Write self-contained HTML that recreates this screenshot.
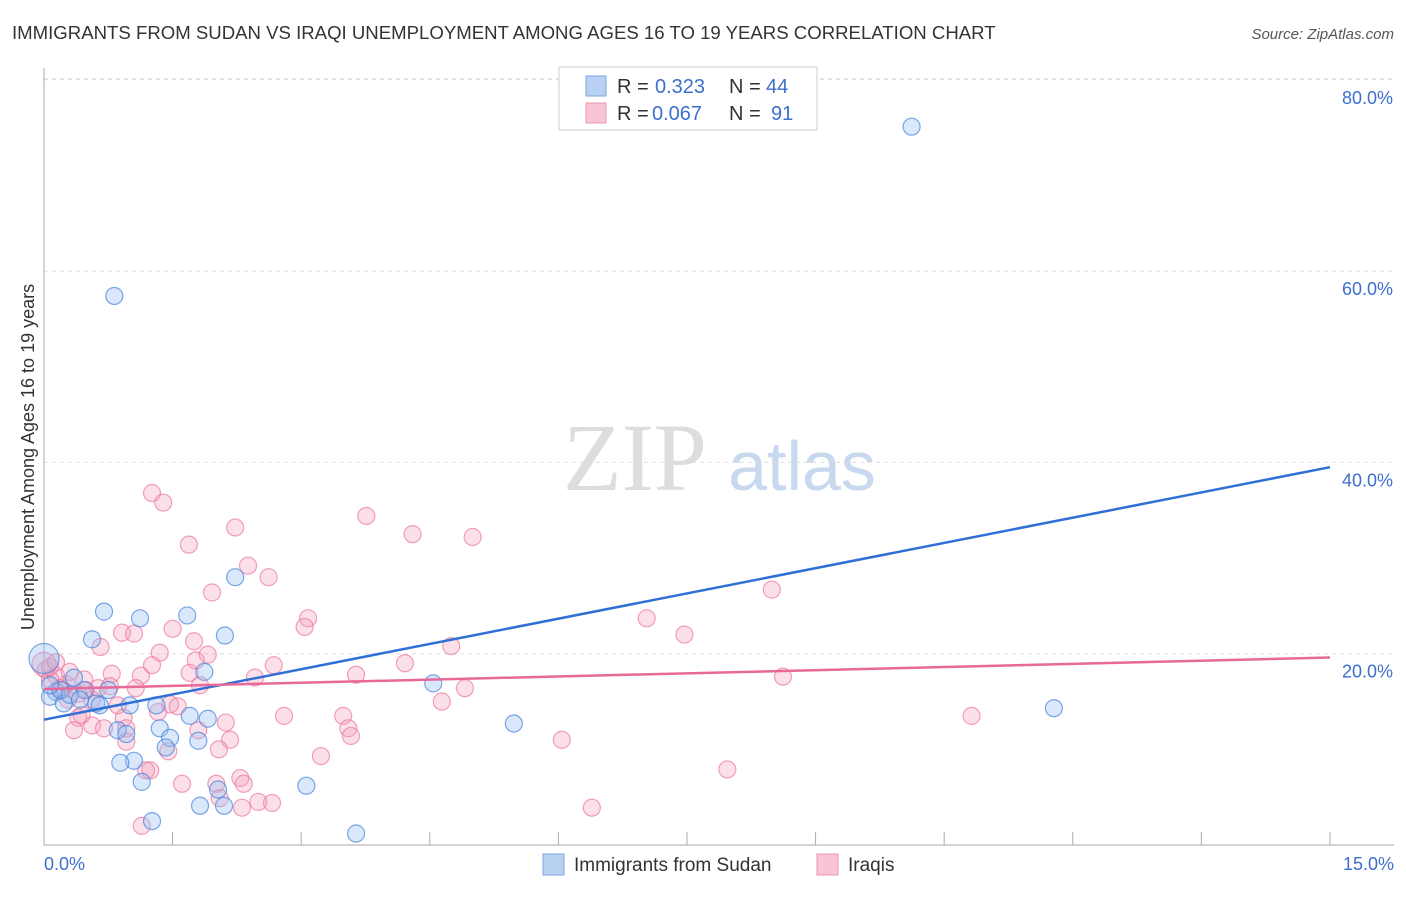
<!DOCTYPE html>
<html><head><meta charset="utf-8"><style>
body{margin:0;background:#fff;font-family:"Liberation Sans",sans-serif}
</style></head><body>
<svg id="chart" width="1406" height="892" xmlns="http://www.w3.org/2000/svg" font-family="Liberation Sans, sans-serif">
<text x="12" y="39" font-size="18.6" fill="#333">IMMIGRANTS FROM SUDAN VS IRAQI UNEMPLOYMENT AMONG AGES 16 TO 19 YEARS CORRELATION CHART</text>
<text x="1394" y="39" font-size="15" fill="#555" text-anchor="end" font-style="italic">Source: ZipAtlas.com</text>
<g>
<text x="635" y="490" font-size="96" fill="#ddd" text-anchor="middle" font-family="Liberation Serif, serif">ZIP</text>
<text x="802" y="490" font-size="70" fill="#c8d8ee" text-anchor="middle">atlas</text>
</g>
<g id="grid"></g>
<g id="marks"></g>
<text transform="translate(34,457) rotate(-90)" font-size="18" fill="#333" text-anchor="middle">Unemployment Among Ages 16 to 19 years</text>
<g font-size="20">
<rect x="559" y="67" width="258" height="63" fill="#fff" stroke="#ccc"/>
<rect x="586" y="76" width="20" height="20" fill="#b8d0f2" stroke="#7da6e0"/>
<text x="617" y="93" fill="#333">R =</text><text x="655" y="93" fill="#3d6fce">0.323</text>
<text x="729" y="93" fill="#333">N =</text><text x="766" y="93" fill="#3d6fce">44</text>
<rect x="586" y="103" width="20" height="20" fill="#f7c5d4" stroke="#ee94b0"/>
<text x="617" y="120" fill="#333">R =</text><text x="652" y="120" fill="#3d6fce">0.067</text>
<text x="729" y="120" fill="#333">N =</text><text x="771" y="120" fill="#3d6fce">91</text>
</g>
<g>
<rect x="543" y="854" width="21" height="21" fill="#b8d0f2" stroke="#7da6e0"/>
<text x="574" y="871" font-size="19" fill="#333">Immigrants from Sudan</text>
<rect x="817" y="854" width="21" height="21" fill="#f7c5d4" stroke="#ee94b0"/>
<text x="848" y="871" font-size="19" fill="#333">Iraqis</text>
</g>
</svg>
<script>
const xTicks=[0,15];
const yTicks=[20,40,60,80];
const blueX=[10.12,0.82,2.23,0.70,1.12,1.67,0.56,2.11,1.87,0.0,0.35,0.47,0.75,0.14,0.07,0.23,0.61,1.0,1.31,1.70,1.91,1.35,0.86,0.96,1.47,1.80,1.42,1.05,0.89,1.14,2.03,1.82,2.10,3.06,1.26,3.64,4.54,5.48,11.78,0.65,0.19,0.07,0.30,0.42];
const blueY=[75.1,57.4,28.0,24.4,23.7,24.0,21.5,21.9,18.1,19.5,17.5,16.2,16.2,16.0,15.5,14.8,14.8,14.6,14.6,13.5,13.2,12.2,12.0,11.6,11.2,10.9,10.2,8.8,8.6,6.6,5.8,4.1,4.1,6.2,2.5,1.2,16.9,12.7,14.3,14.6,16.2,16.7,15.7,15.2];
const pinkX=[1.26,1.39,3.76,2.23,4.30,5.00,1.69,2.38,2.62,1.96,8.49,3.08,7.03,3.04,1.50,0.91,1.05,7.47,1.75,0.66,4.75,1.35,1.91,4.21,2.68,1.70,0.79,1.13,2.46,3.64,8.62,1.82,4.91,1.07,0.49,0.26,0.14,0.02,0.07,0.19,0.40,0.56,0.86,1.47,1.56,1.33,4.64,2.80,3.49,10.82,0.40,0.93,2.12,0.56,0.35,0.70,0.96,1.80,3.55,3.58,2.17,0.96,6.04,2.04,1.45,3.23,1.24,1.19,1.61,2.29,2.01,2.33,7.97,2.05,2.50,2.66,2.31,6.39,1.14,0,0.07,0.14,0.30,0.47,0.63,0.77,0.28,0.44,0.21,1.26,1.77];
const pinkY=[36.8,35.8,34.4,33.2,32.5,32.2,31.4,29.2,28.0,26.4,26.7,23.7,23.7,22.8,22.6,22.2,22.1,22.0,21.3,20.7,20.8,20.1,19.9,19.0,18.8,18.0,17.9,17.7,17.5,17.8,17.6,16.7,16.4,16.4,16.2,16.8,17.7,18.3,17.3,16.4,15.8,15.2,14.6,14.7,14.5,13.9,15.0,13.5,13.5,13.5,13.3,13.3,12.8,12.5,12.0,12.2,12.2,12.0,12.2,11.4,11.0,10.8,11.0,10.0,9.8,9.3,7.8,7.8,6.4,7.0,6.4,6.4,7.9,4.9,4.5,4.4,3.9,3.9,2.0,18.9,18.6,19.1,18.1,17.3,16.4,16.6,15.2,13.6,16.2,18.8,19.3];
const blueTrend=[13.1,39.5];
const pinkTrend=[16.3,19.6];
const X=v=>44+v*85.73, Y=v=>845-v*9.565;
const NS='http://www.w3.org/2000/svg';
function mk(tag,attrs,parent){const e=document.createElementNS(NS,tag);for(const k in attrs)e.setAttribute(k,attrs[k]);parent.appendChild(e);return e;}
const gridG=document.getElementById('grid'), marksG=document.getElementById('marks');
yTicks.forEach(t=>{
 const l=mk('line',{x1:44,x2:1394,y1:Y(t),y2:Y(t),stroke:'#ddd','stroke-dasharray':'4,4'},gridG);
 
 
 const tx=mk('text',{x:1393,y:Y(t)+24,'font-size':18,fill:'#3d6fce','text-anchor':'end'},gridG);tx.textContent=t.toFixed(1)+'%';
 
 
});
const topLine=mk('line',{x1:44,x2:1394,y1:79,y2:79,stroke:'#ddd','stroke-dasharray':'4,4'},gridG);


const yAxisLine=mk('line',{x1:44,x2:44,y1:68,y2:845,stroke:'#aaa'},gridG);


const xAxisLine=mk('line',{x1:44,x2:1394,y1:845,y2:845,stroke:'#aaa'},gridG);


for(let i=0;i<=10;i++){const t=mk('line',{x1:X(i*1.5),x2:X(i*1.5),y1:845,y2:832,stroke:'#aaa'},gridG);
 
 }
xTicks.forEach((t,i)=>{const tx=mk('text',{x:i?1394:44,y:870,'font-size':18,fill:'#3d6fce','text-anchor':i?'end':'start'},gridG);tx.textContent=t.toFixed(1)+'%';
 
 });
pinkX.forEach((v,i)=>{const c=mk('circle',{cx:X(v),cy:Y(pinkY[i]),r:(v===0?12:8.5),fill:'rgba(244,160,188,0.32)',stroke:'rgba(236,120,160,0.7)','stroke-width':1.2},marksG);
 
 });
blueX.forEach((v,i)=>{const c=mk('circle',{cx:X(v),cy:Y(blueY[i]),r:(v===0?15:8.5),fill:'rgba(150,190,240,0.36)',stroke:'rgba(70,130,220,0.7)','stroke-width':1.2},marksG);
 
 });
const bl=mk('line',{x1:X(0),y1:Y(blueTrend[0]),x2:X(15),y2:Y(blueTrend[1]),stroke:'#2f6fd6','stroke-width':2.5},marksG);


const pl=mk('line',{x1:X(0),y1:Y(pinkTrend[0]),x2:X(15),y2:Y(pinkTrend[1]),stroke:'#e8689a','stroke-width':2.5},marksG);


</script>
</body></html>
